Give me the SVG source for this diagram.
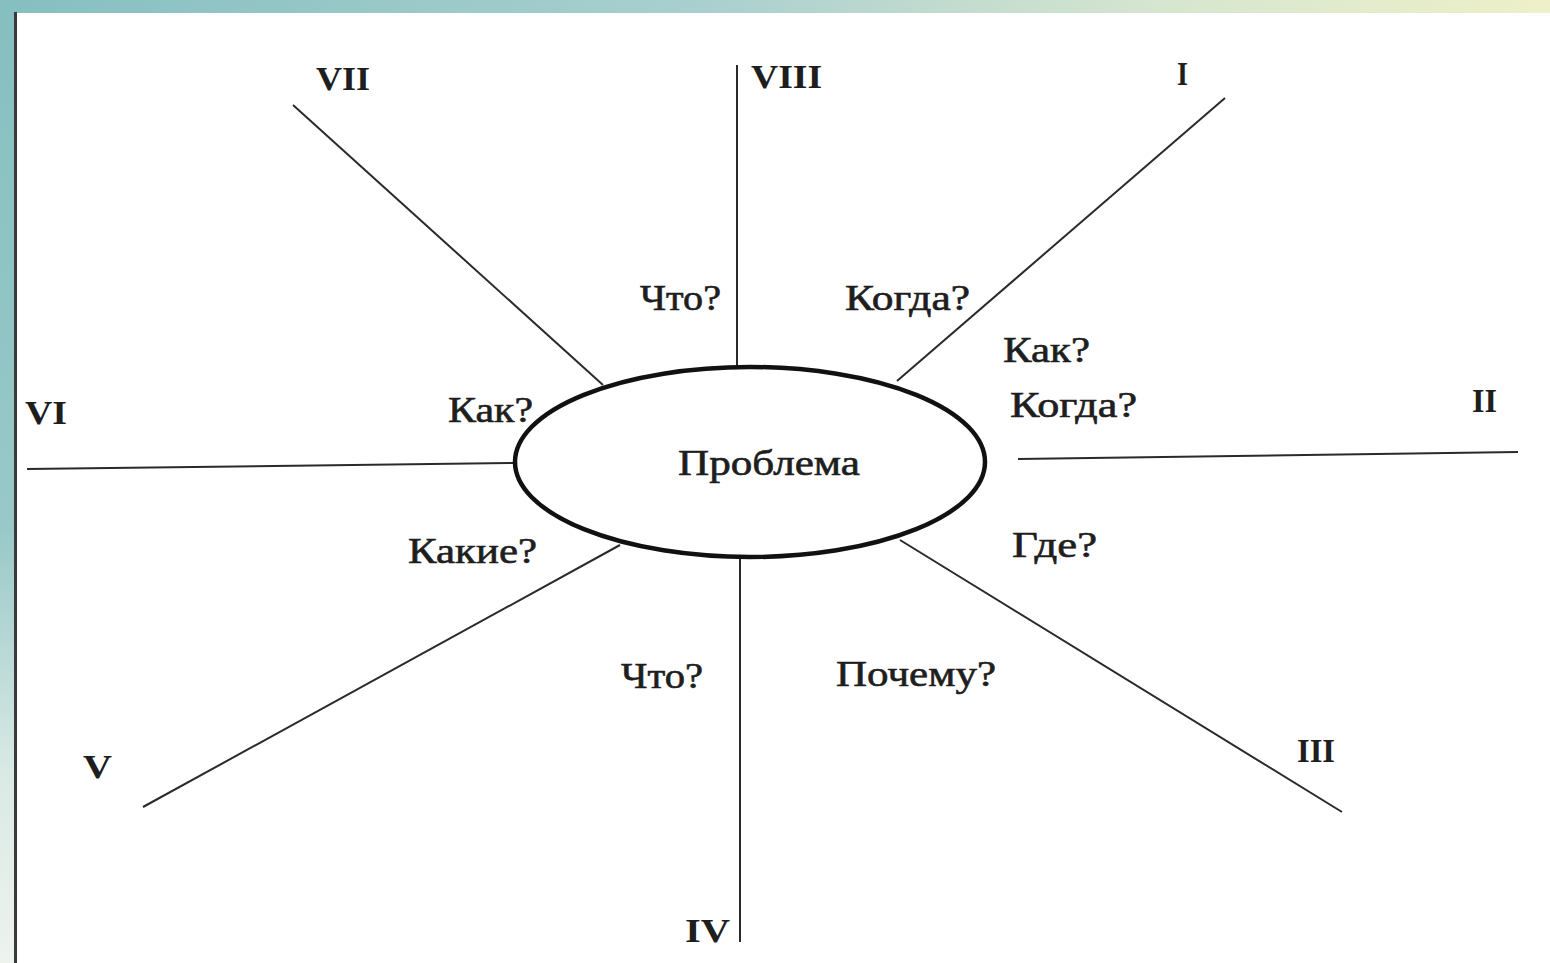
<svg xmlns="http://www.w3.org/2000/svg" width="1550" height="963" viewBox="0 0 1550 963">
<defs>
<linearGradient id="topg" x1="0" y1="0" x2="1" y2="0">
<stop offset="0" stop-color="#86bfc0"/>
<stop offset="0.45" stop-color="#a9cfcf"/>
<stop offset="0.75" stop-color="#d6e6cf"/>
<stop offset="1" stop-color="#eef0c8"/>
</linearGradient>
<linearGradient id="leftg" x1="0" y1="0" x2="0" y2="1">
<stop offset="0" stop-color="#86bfc0"/>
<stop offset="0.55" stop-color="#98c9c8"/>
<stop offset="0.8" stop-color="#d9e9e4"/>
<stop offset="1" stop-color="#eef3ee"/>
</linearGradient>
<style>
.spoke{stroke:#2a2a2a;stroke-width:2;fill:none}
.q{font-family:"Liberation Serif","Times New Roman",serif;font-size:35px;fill:#1e1e1e;stroke:#1e1e1e;stroke-width:0.6}
.n{font-family:"Liberation Serif","Times New Roman",serif;font-size:34px;font-weight:bold;fill:#1e1e1e}
</style>
</defs>
<rect x="0" y="0" width="1550" height="963" fill="#ffffff"/>
<rect x="0" y="0" width="1550" height="13" fill="url(#topg)"/>
<rect x="0" y="0" width="14" height="963" fill="url(#leftg)"/>
<rect x="14" y="12" width="3" height="951" fill="#3a3a3a"/>

<g id="connectors">
<line class="spoke" x1="737" y1="65" x2="737" y2="368"/>
<line class="spoke" x1="740" y1="556" x2="740" y2="942"/>
<line class="spoke" x1="293" y1="105" x2="603" y2="385"/>
<line class="spoke" x1="1225" y1="98" x2="897" y2="381"/>
<line class="spoke" x1="27" y1="469" x2="516" y2="463"/>
<line class="spoke" x1="1018" y1="459" x2="1518" y2="452"/>
<line class="spoke" x1="143" y1="807" x2="620" y2="545"/>
<line class="spoke" x1="900" y1="540" x2="1342" y2="812"/>
</g>

<g id="problem">
<ellipse cx="750" cy="462" rx="235" ry="95" fill="#ffffff" stroke="#111" stroke-width="4.5"/>
<text class="q" x="678" y="475" textLength="182" lengthAdjust="spacingAndGlyphs">Проблема</text>
</g>

<g id="ray-VIII">
<text class="n" x="751" y="88" textLength="71" lengthAdjust="spacingAndGlyphs">VIII</text>
<text class="q" x="640" y="310" textLength="81" lengthAdjust="spacingAndGlyphs">Что?</text>
</g>
<g id="ray-I">
<text class="n" x="1177" y="85" textLength="11" lengthAdjust="spacingAndGlyphs">I</text>
<text class="q" x="845" y="310" textLength="125" lengthAdjust="spacingAndGlyphs">Когда?</text>
</g>
<g id="ray-II">
<text class="n" x="1472" y="412" textLength="25" lengthAdjust="spacingAndGlyphs">II</text>
<text class="q" x="1003" y="362" textLength="87" lengthAdjust="spacingAndGlyphs">Как?</text>
<text class="q" x="1010" y="417" textLength="127" lengthAdjust="spacingAndGlyphs">Когда?</text>
</g>
<g id="ray-III">
<text class="n" x="1297" y="762" textLength="38" lengthAdjust="spacingAndGlyphs">III</text>
<text class="q" x="1012" y="557" textLength="85" lengthAdjust="spacingAndGlyphs">Где?</text>
</g>
<g id="ray-IV">
<text class="n" x="685" y="942" textLength="45" lengthAdjust="spacingAndGlyphs">IV</text>
<text class="q" x="836" y="686" textLength="160" lengthAdjust="spacingAndGlyphs">Почему?</text>
<text class="q" x="621" y="688" textLength="82" lengthAdjust="spacingAndGlyphs">Что?</text>
</g>
<g id="ray-V">
<text class="n" x="83" y="778" textLength="29" lengthAdjust="spacingAndGlyphs">V</text>
<text class="q" x="408" y="563" textLength="129" lengthAdjust="spacingAndGlyphs">Какие?</text>
</g>
<g id="ray-VI">
<text class="n" x="25" y="424" textLength="42" lengthAdjust="spacingAndGlyphs">VI</text>
<text class="q" x="448" y="422" textLength="85" lengthAdjust="spacingAndGlyphs">Как?</text>
</g>
<g id="ray-VII">
<text class="n" x="316" y="90" textLength="54" lengthAdjust="spacingAndGlyphs">VII</text>
</g>
</svg>
